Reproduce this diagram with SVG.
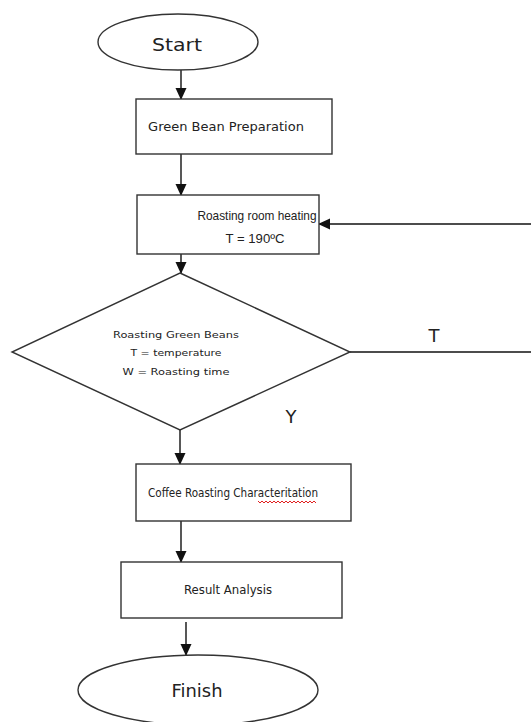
<svg xmlns="http://www.w3.org/2000/svg" width="531" height="722" viewBox="0 0 531 722">
<defs>
<marker id="ah" markerWidth="12" markerHeight="12" refX="11" refY="6" orient="auto" markerUnits="userSpaceOnUse">
<path d="M0,0.5 L12,6 L0,11.5 Z" fill="#111"/>
</marker>
<style>
.shape{fill:#fff;stroke:#333;stroke-width:1.4}
.lbl{font-family:"DejaVu Sans",Verdana,sans-serif;font-size:13px;fill:#222;text-anchor:middle}
.cal{font-family:"Liberation Sans",Arial,sans-serif;font-size:13px}
.big{font-size:18px}
.small{font-size:9.5px}
.conn line,.conn path{stroke:#111;stroke-width:1.4;fill:none}
</style>
</defs>
<rect width="531" height="722" fill="#fff"/>
<g class="conn">
<line x1="181" y1="70" x2="181" y2="99" marker-end="url(#ah)"/>
<line x1="181" y1="154" x2="181" y2="195" marker-end="url(#ah)"/>
<line x1="181" y1="254" x2="181" y2="273" marker-end="url(#ah)"/>
<line x1="350" y1="352" x2="531" y2="352"/>
<line x1="531" y1="224" x2="319" y2="224" marker-end="url(#ah)"/>
<line x1="180" y1="430" x2="180" y2="464" marker-end="url(#ah)"/>
<line x1="181" y1="521" x2="181" y2="562" marker-end="url(#ah)"/>
<line x1="186" y1="622" x2="186" y2="655" marker-end="url(#ah)"/>
</g>
<g id="start">
<ellipse class="shape" cx="178" cy="42" rx="80" ry="28"/>
<text class="lbl big" x="177" y="51" textLength="50" lengthAdjust="spacingAndGlyphs">Start</text>
</g>
<g id="prep">
<rect class="shape" x="136" y="99" width="196" height="55"/>
<text class="lbl" x="226" y="131">Green Bean Preparation</text>
</g>
<g id="heating">
<rect class="shape" x="137" y="195" width="182" height="59"/>
<text class="lbl cal" x="257" y="220" textLength="119" lengthAdjust="spacingAndGlyphs">Roasting room heating</text>
<text class="lbl cal" x="255" y="243" textLength="59" lengthAdjust="spacingAndGlyphs">T = 190ºC</text>
</g>
<g id="roast">
<polygon class="shape" points="180,273 350,352 180,430 12,352"/>
<text class="lbl small" x="176" y="338" textLength="126" lengthAdjust="spacingAndGlyphs">Roasting Green Beans</text>
<text class="lbl small" x="176" y="356" textLength="91" lengthAdjust="spacingAndGlyphs">T = temperature</text>
<text class="lbl small" x="176" y="375" textLength="107" lengthAdjust="spacingAndGlyphs">W = Roasting time</text>
</g>
<g id="labels">
<text class="lbl big" x="434" y="342">T</text>
<text class="lbl big" x="291" y="423">Y</text>
</g>
<g id="charac">
<rect class="shape" x="136" y="464" width="215" height="57"/>
<text class="lbl" x="233" y="497" font-size="11.5" textLength="170" lengthAdjust="spacingAndGlyphs">Coffee  Roasting Characteritation</text>
<path d="M258,501 l2,2 l2,-2 l2,2 l2,-2 l2,2 l2,-2 l2,2 l2,-2 l2,2 l2,-2 l2,2 l2,-2 l2,2 l2,-2 l2,2 l2,-2 l2,2 l2,-2 l2,2 l2,-2 l2,2 l2,-2 l2,2 l2,-2 l2,2 l2,-2 l2,2 l2,-2 l2,2" fill="none" stroke="#e02020" stroke-width="1"/>
</g>
<g id="result">
<rect class="shape" x="121" y="562" width="221" height="56"/>
<text class="lbl" x="228" y="594" font-size="12" textLength="88" lengthAdjust="spacingAndGlyphs">Result Analysis</text>
</g>
<g id="finish">
<ellipse class="shape" cx="198" cy="690" rx="120" ry="35"/>
<text class="lbl big" x="197" y="697" textLength="51" lengthAdjust="spacingAndGlyphs">Finish</text>
</g>
</svg>
